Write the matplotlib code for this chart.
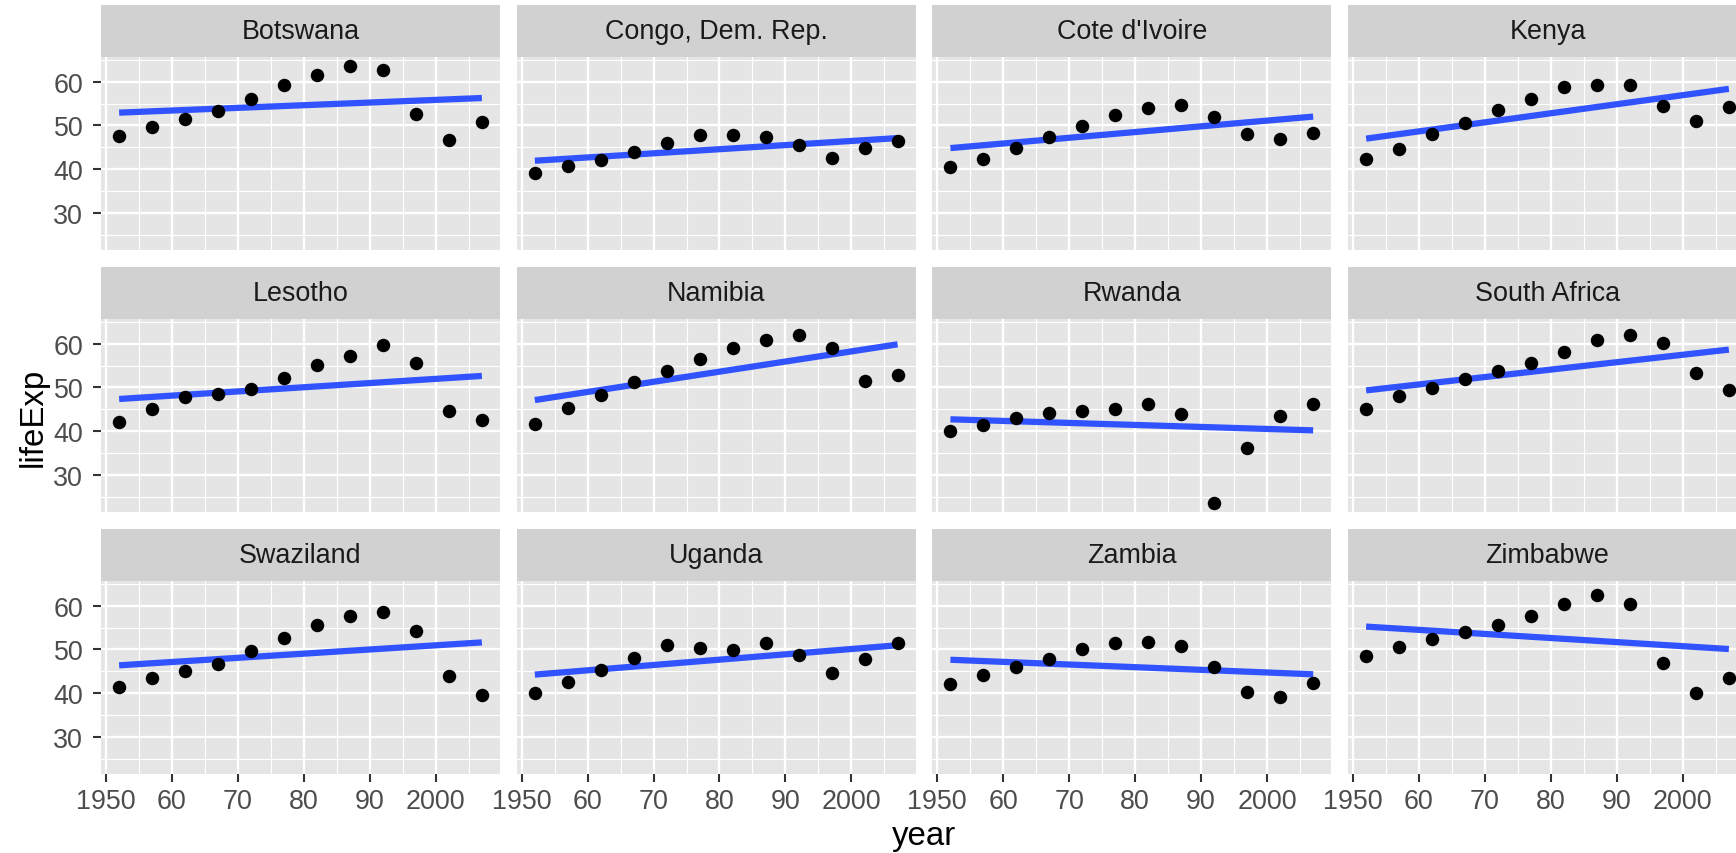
import numpy as np
import matplotlib
matplotlib.use("Agg")
import matplotlib.pyplot as plt
from matplotlib.ticker import FixedLocator

plt.rcParams['font.family'] = ['Liberation Sans', 'DejaVu Sans']

# ---- data: life expectancy by year ----
years = [1952, 1957, 1962, 1967, 1972, 1977, 1982, 1987, 1992, 1997, 2002, 2007]

botswana = [47.622, 49.618, 51.520, 53.298, 56.024, 59.319, 61.484, 63.622, 62.745, 52.556, 46.634, 50.728]
congo_dem_rep = [39.143, 40.652, 42.122, 44.056, 45.989, 47.804, 47.784, 47.412, 45.548, 42.587, 44.966, 46.462]
cote_divoire = [40.477, 42.469, 44.930, 47.350, 49.801, 52.374, 53.983, 54.655, 52.044, 47.991, 46.832, 48.328]
kenya = [42.270, 44.686, 47.949, 50.654, 53.559, 56.155, 58.766, 59.339, 59.285, 54.407, 50.992, 54.110]
lesotho = [42.138, 45.047, 47.747, 48.492, 49.767, 52.208, 55.078, 57.180, 59.685, 55.558, 44.593, 42.592]
namibia = [41.725, 45.226, 48.386, 51.159, 53.867, 56.437, 58.968, 60.835, 61.999, 58.909, 51.479, 52.906]
rwanda = [40.000, 41.500, 43.000, 44.100, 44.600, 45.000, 46.218, 44.020, 23.599, 36.087, 43.413, 46.242]
south_africa = [45.009, 47.985, 49.951, 51.927, 53.696, 55.527, 58.161, 60.834, 61.888, 60.236, 53.365, 49.339]
swaziland = [41.407, 43.424, 44.992, 46.633, 49.552, 52.537, 55.561, 57.678, 58.474, 54.289, 43.869, 39.613]
uganda = [39.978, 42.571, 45.344, 48.051, 51.016, 50.350, 49.849, 51.509, 48.825, 44.578, 47.813, 51.542]
zambia = [42.038, 44.077, 46.023, 47.768, 50.107, 51.386, 51.821, 50.821, 46.100, 40.238, 39.193, 42.384]
zimbabwe = [48.451, 50.469, 52.358, 53.995, 55.635, 57.674, 60.363, 62.351, 60.377, 46.809, 39.989, 43.487]

countries = ["Botswana", "Congo, Dem. Rep.", "Cote d'Ivoire", "Kenya",
             "Lesotho", "Namibia", "Rwanda", "South Africa",
             "Swaziland", "Uganda", "Zambia", "Zimbabwe"]
series = [botswana, congo_dem_rep, cote_divoire, kenya,
          lesotho, namibia, rwanda, south_africa,
          swaziland, uganda, zambia, zimbabwe]

x_major = [1950, 1960, 1970, 1980, 1990, 2000]
x_labels = ["1950", "60", "70", "80", "90", "2000"]
x_minor = [1955, 1965, 1975, 1985, 1995, 2005]
y_major = [30, 40, 50, 60]
y_minor = [25, 35, 45, 55, 65]

# ---- style ----
PANEL = "#E5E5E5"
STRIP = "#D1D1D1"
BLUE = "#3152FF"

W, H = 1736, 854
fig = plt.figure(figsize=(W / 100, H / 100), dpi=100)

col_left = [101, 516.7, 932.3, 1348]
panel_w = 399
strip_top = [6, 268, 530]
strip_h = 52
panel_h = 193


def rect(x, top, w, h):
    return [x / W, 1 - (top + h) / H, w / W, h / H]


# shared scales with 5% expansion
yrs = np.array(years, dtype=float)
all_vals = np.concatenate([np.array(s) for s in series])
xr = yrs.max() - yrs.min()
xlim = (yrs.min() - 0.05 * xr, yrs.max() + 0.05 * xr)
yr = all_vals.max() - all_vals.min()
ylim = (all_vals.min() - 0.05 * yr, all_vals.max() + 0.05 * yr)

for i, (name, vals) in enumerate(zip(countries, series)):
    r, c = divmod(i, 4)
    vals = np.array(vals)

    ax = fig.add_axes(rect(col_left[c], strip_top[r] + strip_h, panel_w, panel_h))
    ax.set_facecolor(PANEL)
    for sp in ax.spines.values():
        sp.set_visible(False)
    ax.set_xlim(*xlim)
    ax.set_ylim(*ylim)
    ax.xaxis.set_major_locator(FixedLocator(x_major))
    ax.xaxis.set_minor_locator(FixedLocator(x_minor))
    ax.yaxis.set_major_locator(FixedLocator(y_major))
    ax.yaxis.set_minor_locator(FixedLocator(y_minor))
    ax.grid(which="major", color="white", linewidth=1.7)
    ax.grid(which="minor", color="white", linewidth=0.85)
    ax.set_axisbelow(True)
    ax.tick_params(which="minor", length=0)
    ax.tick_params(which="major", length=5.8, width=1.5, color="#333333",
                   labelsize=19.4, labelcolor="#4D4D4D")
    ax.tick_params(axis="y", pad=7)
    ax.tick_params(axis="x", pad=4)

    if c == 0:
        ax.set_yticklabels([str(v) for v in y_major])
    else:
        ax.tick_params(axis="y", which="major", length=0, labelleft=False)
    if r == 2:
        ax.set_xticklabels(x_labels)
    else:
        ax.tick_params(axis="x", which="major", length=0, labelbottom=False)

    # linear fit
    slope, intercept = np.polyfit(yrs, vals, 1)
    ax.plot(yrs, intercept + slope * yrs, color=BLUE, linewidth=4.5,
            solid_capstyle="butt", zorder=3)
    ax.scatter(yrs, vals, s=94, color="black", linewidths=0, zorder=4)

    sax = fig.add_axes(rect(col_left[c], strip_top[r], panel_w, strip_h))
    sax.set_facecolor(STRIP)
    sax.set_xticks([])
    sax.set_yticks([])
    for sp in sax.spines.values():
        sp.set_visible(False)
    sax.text(0.5, 0.5, name, transform=sax.transAxes, ha="center",
             va="center", fontsize=19.4, color="#1A1A1A")

fig.text(924 / W, 1 - 845 / H, "year", ha="center", va="baseline",
         fontsize=23.8, color="black")
fig.text(42 / W, 1 - 417 / H, "lifeExp", ha="center", va="baseline",
         rotation=90, rotation_mode="anchor", fontsize=23.8, color="black")

fig.savefig("out.png", dpi=100, facecolor="white")
